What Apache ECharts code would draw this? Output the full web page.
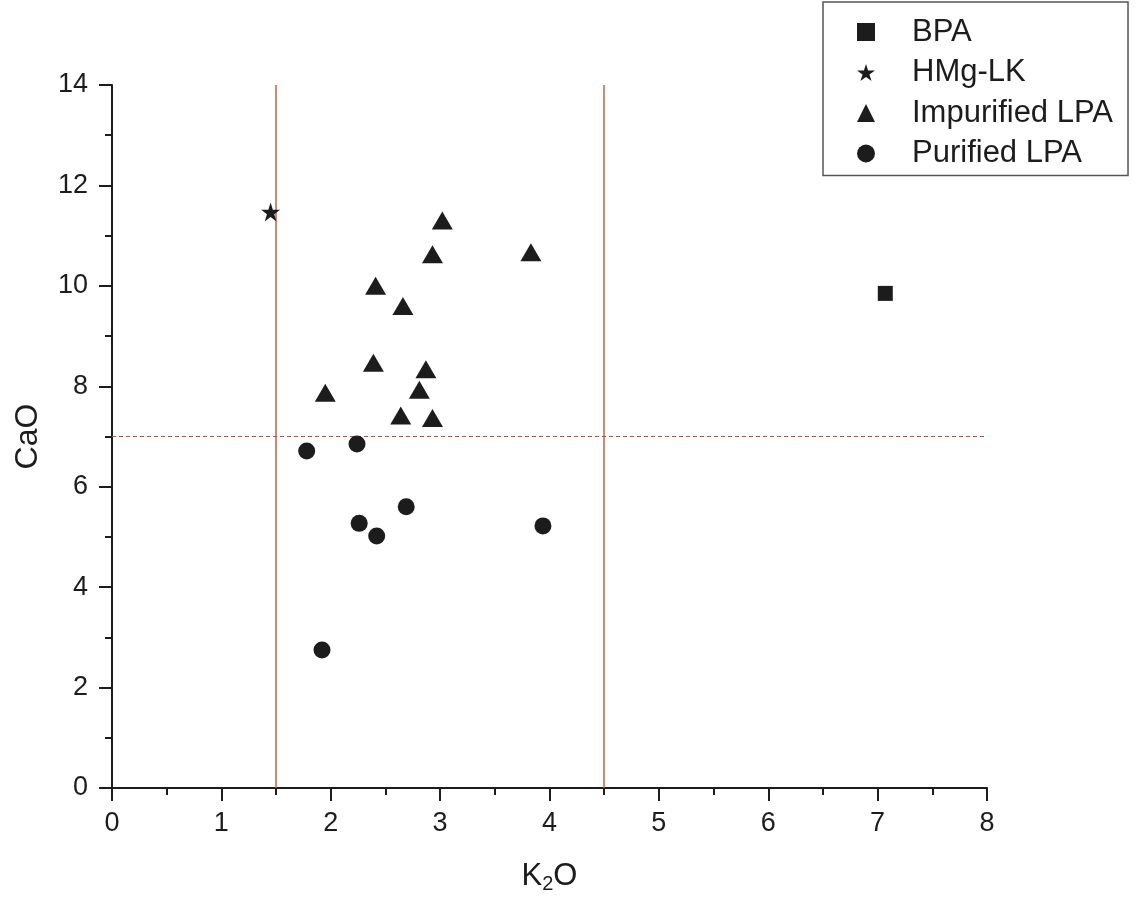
<!DOCTYPE html>
<html>
<head>
<meta charset="utf-8">
<script src="https://cdn.jsdelivr.net/npm/echarts@6/dist/echarts.min.js"></script>
<style>html,body{margin:0;padding:0;background:#fff}#c{width:1137px;height:901px}</style>
</head>
<body>
<div id="c"></div>
<script>
// ---- data ----
const bpa = [[7.07, 9.85]];
const hmgLk = [[1.45, 11.47]];
const impurifiedLPA = [
  [3.02, 11.30], [2.93, 10.63], [3.83, 10.67], [2.41, 10.00], [2.66, 9.60],
  [2.39, 8.47], [2.87, 8.34], [1.95, 7.87], [2.81, 7.93], [2.64, 7.42], [2.93, 7.37]
];
const purifiedLPA = [
  [1.78, 6.71], [2.24, 6.85], [2.69, 5.60], [2.26, 5.27], [2.42, 5.02], [3.94, 5.22], [1.92, 2.75]
];
const verticalRefs = [1.5, 4.5];
const horizontalRef = 7;
const seriesNames = ['BPA', 'HMg-LK', 'Impurified LPA', 'Purified LPA'];

const starPath = 'path://M50,0 L61.2,34.5 L97.6,34.5 L68.2,55.9 L79.4,90.5 L50,69.1 L20.6,90.5 L31.8,55.9 L2.4,34.5 L38.8,34.5 Z';
const FONT = '"Liberation Sans", Arial, sans-serif';
const black = '#1c1c1c';
const markStyle = { color: black, opacity: 1 };

const chart = echarts.init(document.getElementById('c'));
chart.setOption({
  backgroundColor: '#fff',
  animation: false,
  textStyle: { fontFamily: FONT },
  grid: { left: 112, right: 150, top: 85, bottom: 113 },
  legend: {
    orient: 'vertical',
    left: 823, top: 2,
    padding: [14, 15, 6, 34],
    borderColor: '#555', borderWidth: 1.5,
    itemWidth: 18, itemHeight: 18, itemGap: 8.5,
    itemStyle: { opacity: 1 },
    textStyle: { fontFamily: FONT, fontSize: 31, lineHeight: 32, color: black, padding: [0, 0, 0, 32] },
    data: seriesNames.map(n => ({ name: n }))
  },
  xAxis: {
    type: 'value', min: 0, max: 8, interval: 1,
    name: '{a|K}{s|2}{a|O}', nameLocation: 'middle', nameGap: 70,
    nameTextStyle: { rich: { a: { fontSize: 31, color: black, fontFamily: FONT }, s: { fontSize: 20, color: black, fontFamily: FONT, verticalAlign: 'bottom', padding: [16, 0, 0, 0] } } },
    axisLine: { onZero: false, lineStyle: { color: black, width: 2 } },
    axisTick: { length: 13, lineStyle: { color: black, width: 2 } },
    minorTick: { show: true, splitNumber: 2, length: 7, lineStyle: { color: black, width: 2 } },
    axisLabel: { fontSize: 27, color: black, margin: 22, fontFamily: FONT },
    splitLine: { show: false }
  },
  yAxis: {
    type: 'value', min: 0, max: 14, interval: 2,
    name: 'CaO', nameLocation: 'middle', nameGap: 68,
    nameTextStyle: { fontSize: 32, color: black, fontFamily: FONT },
    axisLine: { show: true, onZero: false, lineStyle: { color: black, width: 2 } },
    axisTick: { show: true, length: 13, lineStyle: { color: black, width: 2 } },
    minorTick: { show: true, splitNumber: 2, length: 7, lineStyle: { color: black, width: 2 } },
    axisLabel: { fontSize: 27, color: black, margin: 24, fontFamily: FONT },
    splitLine: { show: false }
  },
  series: [
    { name: 'BPA', type: 'scatter', data: bpa, symbol: 'rect', symbolSize: 15, itemStyle: markStyle, z: 5 },
    { name: 'HMg-LK', type: 'scatter', data: hmgLk, symbol: starPath, symbolSize: 19, itemStyle: markStyle, z: 5 },
    { name: 'Impurified LPA', type: 'scatter', data: impurifiedLPA, symbol: 'triangle', symbolSize: [21, 18], itemStyle: markStyle, z: 5 },
    { name: 'Purified LPA', type: 'scatter', data: purifiedLPA, symbol: 'circle', symbolSize: 17, itemStyle: markStyle, z: 5,
      markLine: {
        silent: true, symbol: 'none', animation: false,
        label: { show: false },
        data: [
          ...verticalRefs.map(v => ({ xAxis: v, lineStyle: { color: '#c0604c', width: 1.5, type: 'solid' } })),
          { yAxis: horizontalRef, lineStyle: { color: '#b8503c', width: 1.2, type: [4, 3] } }
        ]
      }
    }
  ]
});
</script>
</body>
</html>
